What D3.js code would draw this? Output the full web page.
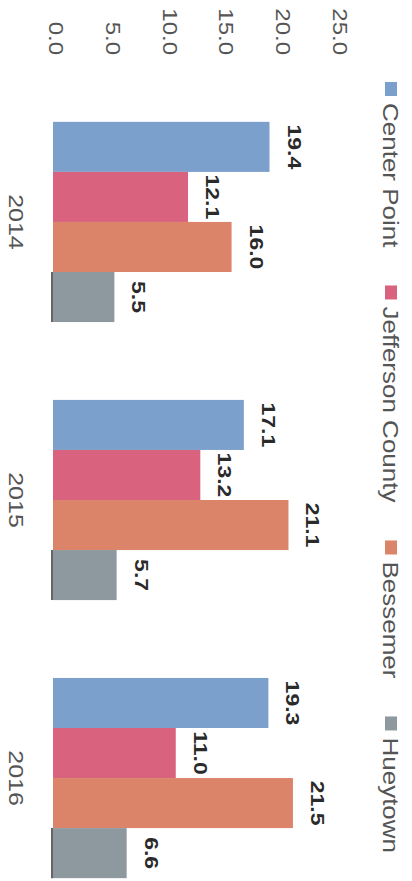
<!DOCTYPE html>
<html>
<head>
<meta charset="utf-8">
<script src="https://cdn.jsdelivr.net/npm/d3@7"></script>
<style>
  body { margin: 0; background: #fff; }
  svg { display: block; font-family: "Liberation Sans", Arial, sans-serif; }
</style>
</head>
<body>
<div id="chart-area"></div>
<script>

// data
let years = ["2014", "2015", "2016"];
let places = ["Center Point", "Jefferson County", "Bessemer", "Hueytown"];
let centerPoint = [19.4, 17.1, 19.3];
let jefferson = [12.1, 13.2, 11.0];
let bessemer = [16.0, 21.1, 21.5];
let hueytown = [5.5, 5.7, 6.6];
let ticks = [0, 5, 10, 15, 20, 25];

let colors = ["#7ba0cc", "#d9637e", "#dc8469", "#8e989f"];

let width = 412,
    height = 881;

let svg = d3.select("#chart-area").append("svg")
    .attr("width", width)
    .attr("height", height);

let rows = [];
years.forEach((y, i) => {
  [centerPoint, jefferson, bessemer, hueytown].forEach((s, j) => {
    rows.push({year: y, place: places[j], value: s[i]});
  });
});

// the chart is turned a quarter clockwise: values go right, years go down
let x = d3.scaleLinear().domain([0, 25]).range([53, 332]);
let y0 = d3.scaleBand().domain(years).range([44, 956]).paddingInner(0.28).paddingOuter(0.28);
let y1 = d3.scaleBand().domain(places).range([0, y0.bandwidth()]);
let color = d3.scaleOrdinal().domain(places).range(colors);

// squeeze of the glyphs across the text line
let squash = 0.82;

function turned(sel, tx, ty) {
  return sel.attr("transform", d => "translate(" + tx(d) + "," + ty(d) + ") rotate(90) scale(1," + squash + ")");
}

// value ticks
svg.append("g").selectAll("text")
  .data(ticks)
  .enter().append("text")
  .call(turned, d => x(d) - 4 + d * 0.2, d => 55)
  .attr("text-anchor", "end")
  .attr("font-size", 24)
  .attr("fill", "#555")
  .text(d => d.toFixed(1));

// bars
svg.append("g").selectAll("rect")
  .data(rows)
  .enter().append("rect")
  .attr("x", x(0))
  .attr("y", d => y0(d.year) + y1(d.place))
  .attr("width", d => x(d.value) - x(0))
  .attr("height", y1.bandwidth())
  .attr("fill", d => color(d.place));

// dark edge seen at the base of the grey bars
svg.append("g").selectAll("line")
  .data(rows.filter(d => d.place === "Hueytown"))
  .enter().append("line")
  .attr("x1", x(0) - 1).attr("x2", x(0) - 1)
  .attr("y1", d => y0(d.year) + y1(d.place))
  .attr("y2", d => y0(d.year) + y1(d.place) + y1.bandwidth())
  .attr("stroke", "#333")
  .attr("stroke-width", 1.5);

// value labels
svg.append("g").selectAll("text")
  .data(rows)
  .enter().append("text")
  .call(turned, d => x(d.value) + 18, d => y0(d.year) + y1(d.place) + y1.bandwidth() / 2)
  .attr("text-anchor", "middle")
  .attr("font-size", 23)
  .attr("font-weight", "bold")
  .attr("fill", "#2a2a2a")
  .text(d => d.value.toFixed(1));

// year labels
svg.append("g").selectAll("text")
  .data(years)
  .enter().append("text")
  .call(turned, d => 9, d => y0(d) + y0.bandwidth() / 2)
  .attr("text-anchor", "middle")
  .attr("font-size", 25)
  .attr("fill", "#555")
  .text(d => d);

// legend
let legend = svg.append("g");
let pos = 82;
places.forEach(p => {
  legend.append("rect")
    .attr("x", 385)
    .attr("y", pos)
    .attr("width", 12)
    .attr("height", 14)
    .attr("fill", color(p));
  let t = legend.append("text")
    .datum(p)
    .call(turned, d => 383, d => pos + 21)
    .attr("font-size", 26)
    .attr("fill", "#555")
    .text(p);
  pos = pos + 21 + t.node().getComputedTextLength() + 38;
});

</script>
</body>
</html>
